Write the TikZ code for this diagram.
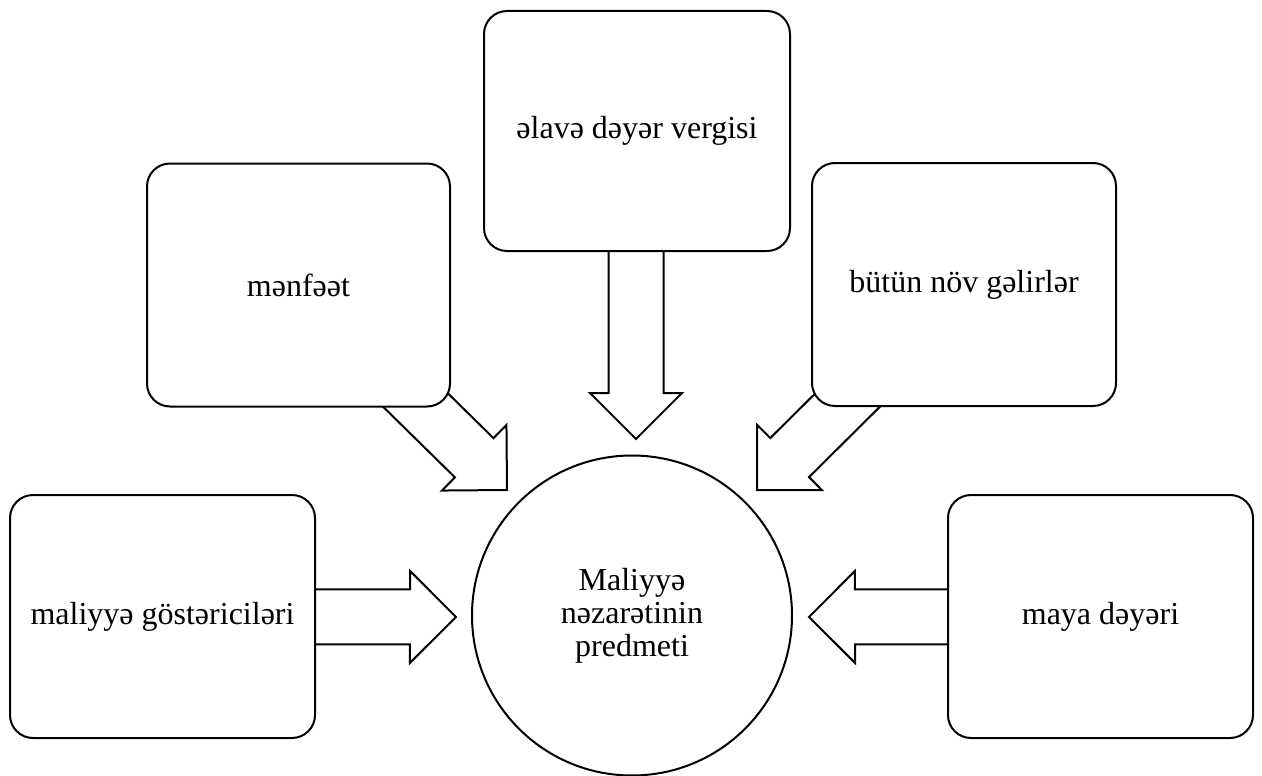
\documentclass[tikz,border=0pt]{standalone}
\usepackage{fontspec}
\setmainfont{Liberation Serif}
\usetikzlibrary{calc,backgrounds}
\tikzset{
  box/.style={draw, line width=2pt, rounded corners=23pt, fill=white, align=center,
    font=\fontsize{32}{33}\selectfont, inner sep=0pt, minimum width=305pt, minimum height=243pt},
  circ/.style={draw, line width=2pt, circle, fill=white, align=center, inner sep=0pt,
    font=\fontsize{32}{33}\selectfont, minimum size=320pt},
  blockarrow/.style={draw, line width=2pt, fill=white, line join=miter}
}
\newcommand\blockarrow[2]{%
  \coordinate (hh) at ($(#2)!46pt!(#1)$);
  \path[blockarrow] ($(#1)!27.5pt!90:(#2)$) -- ($(hh)!27.5pt!90:(#2)$) -- ($(hh)!46pt!90:(#2)$)
    -- (#2) -- ($(hh)!46pt!-90:(#2)$) -- ($(hh)!27.5pt!-90:(#2)$) -- ($(#1)!27.5pt!-90:(#2)$) -- cycle;
}
\begin{document}
\begin{tikzpicture}[x=1pt,y=-1pt]
\useasboundingbox (0,0) rectangle (1262,776);
\node[circ] (c) at (632,615.5) {Maliyyə\\nəzarətinin\\predmeti};
\node[box, minimum width=306pt, minimum height=240pt] (t) at (637,131) {əlavə dəyər vergisi};
\node[box, minimum width=303pt] (m) at (298.5,285) {mənfəət};
\node[box, minimum width=304pt] (b) at (964,284.5) {bütün növ gəlirlər};
\node[box] (l) at (162.5,616.5) {maliyyə göstəriciləri};
\node[box] (r) at (1100.5,616.5) {maya dəyəri};
\coordinate (tt) at (636,439);
\coordinate (ts) at (636,131);
\coordinate (tm) at ($(c.center)+(-125,-125.5)$);
\coordinate (tb) at ($(c.center)+(125,-125.5)$);
\coordinate (tl) at ($(c.center)+(-176,1.5)$);
\coordinate (tr) at ($(c.center)+(177,1.5)$);
\begin{scope}[on background layer]
  \blockarrow{ts}{tt}
  \blockarrow{m.center}{tm}
  \blockarrow{b.center}{tb}
  \blockarrow{l.center}{tl}
  \blockarrow{r.center}{tr}
\end{scope}
\end{tikzpicture}
\end{document}
